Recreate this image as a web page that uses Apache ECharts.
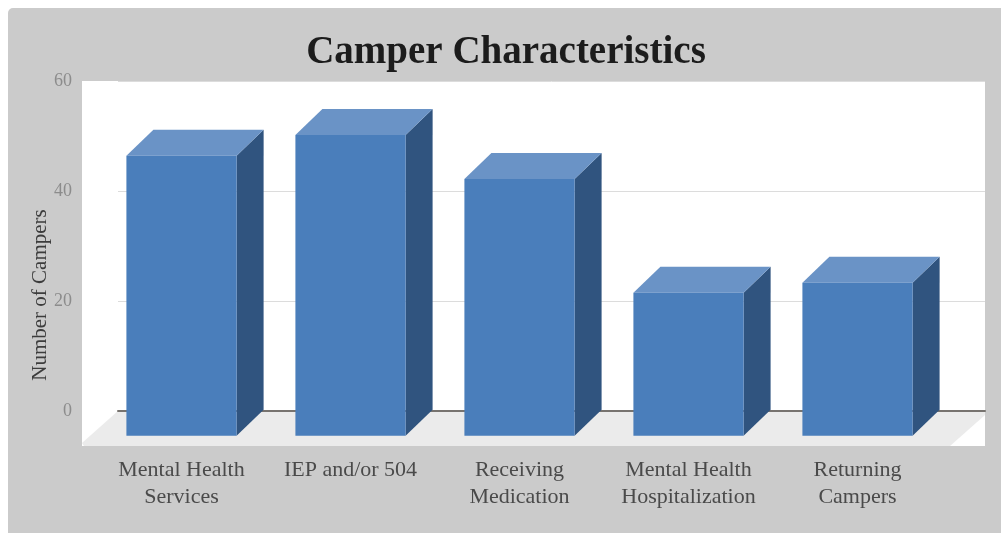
<!DOCTYPE html>
<html>
<head>
<meta charset="utf-8">
<style>
html, body { margin: 0; padding: 0; background: #fff; }
#main { width: 1001px; height: 533px; }
</style>
<script src="https://cdn.jsdelivr.net/npm/echarts@6/dist/echarts.min.js"></script>
</head>
<body>
<div id="main"></div>
<script>
var categories = ['Mental Health\nServices', 'IEP and/or 504', 'Receiving\nMedication', 'Mental Health\nHospitalization', 'Returning\nCampers'];
var campers = [46.4, 50.2, 42.2, 21.5, 23.3];
var yTicks = [0, 20, 40, 60];
// the bars stand in front of the zero line, on the floor
var floorValue = -4.5;

var fontName = '"Liberation Serif", serif';
var depthX = 27;
var depthY = 26;

var renderBar = function(params, api) {
	var value = api.value(1);
	var top = api.coord([api.value(0), value]);
	var bottom = api.coord([api.value(0), floorValue]);
	var width = api.size([1, 0])[0] * 0.652;
	var l = top[0] - width / 2;
	var r = top[0] + width / 2;
	return {
		type: 'group',
		children: [
			{
				type: 'polygon',
				shape: {points: [[r, top[1]], [r + depthX, top[1] - depthY], [r + depthX, bottom[1] - depthY], [r, bottom[1]]]},
				style: {fill: '#30547f'}
			},
			{
				type: 'polygon',
				shape: {points: [[l, top[1]], [l + depthX, top[1] - depthY], [r + depthX, top[1] - depthY], [r, top[1]]]},
				style: {fill: '#6a93c6'}
			},
			{
				type: 'rect',
				shape: {x: l, y: top[1], width: width, height: bottom[1] - top[1]},
				style: {fill: '#4a7ebb'}
			}
		]
	};
};

var myChart = echarts.init(document.getElementById('main'), null, {renderer: 'canvas'});
myChart.setOption({
	animation: false,
	backgroundColor: '#fff',
	textStyle: {fontFamily: fontName},
	title: {
		text: 'Camper Characteristics',
		left: 501,
		top: 28,
		textAlign: 'center',
		textStyle: {fontFamily: fontName, fontSize: 39, fontWeight: 'bold', color: '#1c1c1c'}
	},
	graphic: [
		{
			type: 'rect',
			z: -30,
			shape: {x: 8, y: 8, width: 1010, height: 540, r: 5},
			style: {fill: '#cbcbcb'}
		},
		{
			type: 'rect',
			z: -20,
			shape: {x: 82, y: 81, width: 903, height: 365},
			style: {fill: '#fff'}
		},
		{
			type: 'polygon',
			z: -10,
			shape: {points: [[118, 411], [985, 411], [985, 415], [950, 446], [84, 446], [82, 443]]},
			style: {fill: '#ebebeb'}
		},
		{
			type: 'text',
			x: 40,
			y: 295,
			rotation: Math.PI / 2,
			style: {
				text: 'Number of Campers',
				font: '21px ' + fontName,
				fill: '#3c3c3c',
				textAlign: 'center',
				textVerticalAlign: 'middle'
			}
		}
	],
	grid: [
		{left: 118, top: 81, width: 867, height: 330},
		{left: 97, top: 81, width: 845, height: 330}
	],
	xAxis: [
		{
			gridIndex: 0,
			type: 'value',
			min: 0,
			max: 1,
			axisLabel: {show: false},
			axisTick: {show: false},
			splitLine: {show: false},
			axisLine: {show: true, lineStyle: {color: '#77736f', width: 2}}
		},
		{
			gridIndex: 1,
			type: 'category',
			data: categories,
			axisLine: {show: false},
			axisTick: {show: false},
			axisLabel: {
				interval: 0,
				margin: 46,
				fontFamily: fontName,
				fontSize: 22,
				lineHeight: 27,
				verticalAlign: 'top',
				color: '#4a4a4a'
			}
		}
	],
	yAxis: [
		{
			gridIndex: 0,
			type: 'value',
			min: yTicks[0],
			max: yTicks[yTicks.length - 1],
			interval: yTicks[1] - yTicks[0],
			axisLine: {show: false},
			axisTick: {show: false},
			axisLabel: {margin: 46, fontFamily: fontName, fontSize: 18, color: '#8c8c8c'},
			splitLine: {show: true, lineStyle: {color: '#dcdcdc', width: 1}}
		},
		{
			gridIndex: 1,
			type: 'value',
			min: yTicks[0],
			max: yTicks[yTicks.length - 1],
			show: false
		}
	],
	series: [
		{
			name: 'Number of Campers',
			type: 'custom',
			xAxisIndex: 1,
			yAxisIndex: 1,
			clip: false,
			renderItem: renderBar,
			encode: {x: 0, y: 1},
			data: categories.map(function(c, i) {
				return [i, campers[i]];
			})
		}
	]
});
</script>
</body>
</html>
